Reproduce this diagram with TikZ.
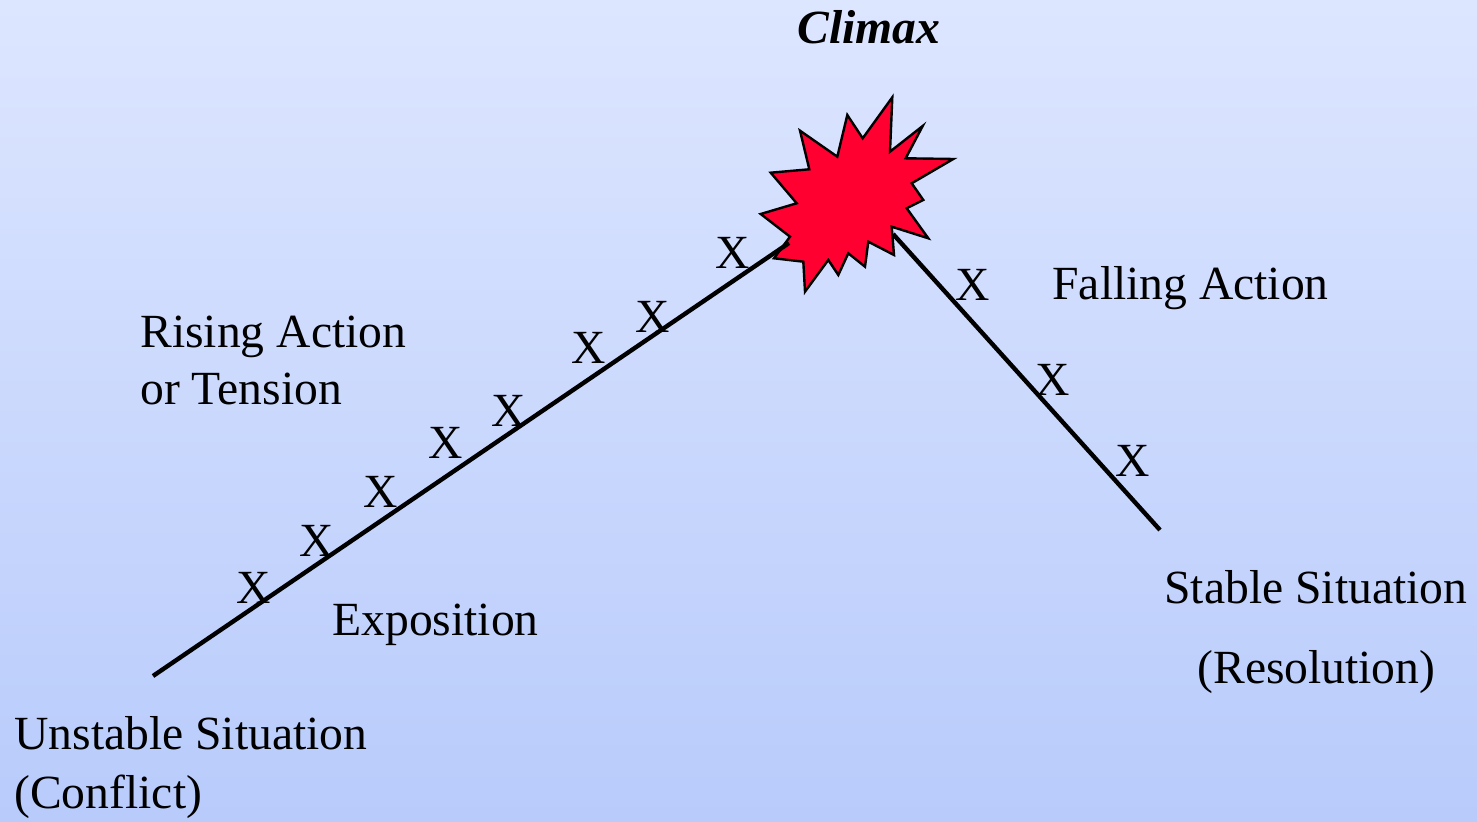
\documentclass[tikz,border=0pt]{standalone}
\usepackage{fontspec}
\setmainfont{Liberation Serif}
\begin{document}
\begin{tikzpicture}[x=0.5pt,y=-0.5pt,
  lbl/.style={font=\fontsize{23.8}{28}\selectfont, inner sep=0pt, anchor=base west},
  xmark/.style={font=\fontsize{23.8}{28}\selectfont, inner sep=0pt, anchor=center},
  plotline/.style={line width=2.2pt, black},
  starstyle/.style={fill=starred, draw=black, line width=1.2pt, line join=miter}]
\definecolor{bgtop}{HTML}{DDE6FF}
\definecolor{bgbot}{HTML}{B8CBFB}
\definecolor{starred}{HTML}{FF0030}
\useasboundingbox (0,0) rectangle (1477,822);
\shade[top color=bgtop, bottom color=bgbot] (0,0) rectangle (1477,822);
% star
\draw[starstyle] (892.3,97.3) -- (890,151.7) -- (922.7,126) -- (905.7,158.3) -- (953.3,159)
 -- (911.7,183.3) -- (923.3,200) -- (906.7,208.3) -- (928.3,238.3) -- (891.7,226.7)
 -- (894,255) -- (868.3,241.7) -- (865,266.7) -- (848.3,253.3) -- (838.3,275)
 -- (828.3,260) -- (805,291.7) -- (803.3,261.7) -- (774,258.3) -- (790,236.7)
 -- (760.7,214) -- (796.7,203.3) -- (770.7,172.7) -- (809.3,169.3) -- (800,130.7)
 -- (837.3,156.7) -- (847.3,115) -- (862.7,138.3) -- cycle;
\coordinate (riseStart) at (153,676);
\coordinate (riseEnd) at (789,243);
\coordinate (fallStart) at (893,234);
\coordinate (fallEnd) at (1160,530);
\draw[plotline] (riseStart) -- (riseEnd);
\draw[plotline] (fallStart) -- (fallEnd);
% X marks
\node[xmark] (x1) at (254,588) {X};
\node[xmark] (x2) at (317,541) {X};
\node[xmark] (x3) at (381,492) {X};
\node[xmark] (x4) at (446,443) {X};
\node[xmark] (x5) at (509,411) {X};
\node[xmark] (x6) at (589,348) {X};
\node[xmark] (x7) at (653,317) {X};
\node[xmark] (x8) at (733,253) {X};
\node[xmark] (x9) at (973,285) {X};
\node[xmark] (x10) at (1053,380) {X};
\node[xmark] (x11) at (1133,461) {X};
% labels
\node[lbl] (climax) at (797,44) {\textbf{\textit{Climax}}};
\node[lbl] (falling) at (1052,300) {Falling Action};
\node[lbl] (rising1) at (140,348) {Rising Action};
\node[lbl] (rising2) at (140,405) {or Tension};
\node[lbl] (expo) at (332,636) {Exposition};
\node[lbl] (stable1) at (1164,604) {Stable Situation};
\node[lbl] (stable2) at (1197,683) {(Resolution)};
\node[lbl] (unstable1) at (14,749) {Unstable Situation};
\node[lbl] (unstable2) at (14,808) {(Conflict)};
\end{tikzpicture}
\end{document}
